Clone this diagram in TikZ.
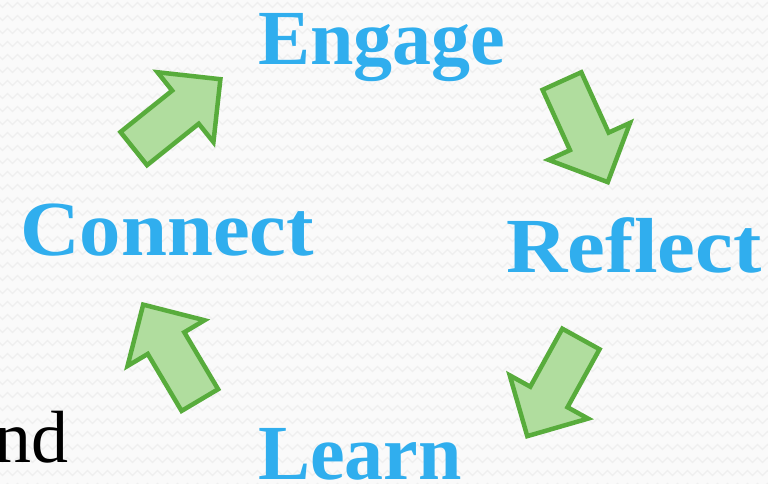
\documentclass[tikz,border=0pt]{standalone}
\usepackage{fontspec}
\setmainfont{Liberation Serif}
\usetikzlibrary{shapes.arrows,decorations.pathmorphing}
\definecolor{wordblue}{RGB}{48,174,238}
\definecolor{arrowfill}{RGB}{176,221,158}
\definecolor{arrowline}{RGB}{88,172,60}
\definecolor{zigline}{RGB}{239,239,239}
\tikzset{
  word/.style={
    text=wordblue,
    font=\fontsize{78}{80}\selectfont\bfseries,
    inner sep=0pt,
    anchor=base},
  cyclearrow/.style={
    single arrow,
    single arrow head extend=23.5pt,
    single arrow tip angle=90,
    minimum height=111pt,
    inner xsep=0pt, inner ysep=19pt,
    fill=arrowfill,
    draw=arrowline, line width=4.5pt,
    anchor=tail},
  zigzagrow/.style={
    draw=zigline, line width=1.2pt,
    decorate, decoration={zigzag, segment length=10pt, amplitude=2.5pt}},
}

\begin{document}
\begin{tikzpicture}[x=1pt, y=-1pt]
		\useasboundingbox (0,0) rectangle (768,484);
		\clip (0,0) rectangle (768,484);
		\fill[white!98!black] (0,0) rectangle (768,484);
		\foreach \r in {0,...,37}
			\path[zigzagrow] (-5,\r*13+5) -- (775,\r*13+5);

		% the four words of the cycle
		\node[word] (engage) at (382,65) {Engage};
		\node[word, xscale=1.09] (reflect) at (634,272) {Reflect};
		\node[word] (learn) at (360,479) {Learn};
		\node[word, xscale=1.06] (connect) at (167,255) {Connect};

		% block arrows between them
		\node[cyclearrow, rotate=38.7] (to-engage) at (132,150) {};
		\node[cyclearrow, rotate=-65.6] (to-reflect) at (561,79) {};
		\node[cyclearrow, rotate=-118.9] (to-learn) at (582,337) {};
		\node[cyclearrow, rotate=120.7] (to-connect) at (201,402) {};

		\node[font=\fontsize{74}{80}\selectfont, inner sep=0pt, anchor=base east]
			(and-tail) at (69,462) {nd};
	\end{tikzpicture}
\end{document}
